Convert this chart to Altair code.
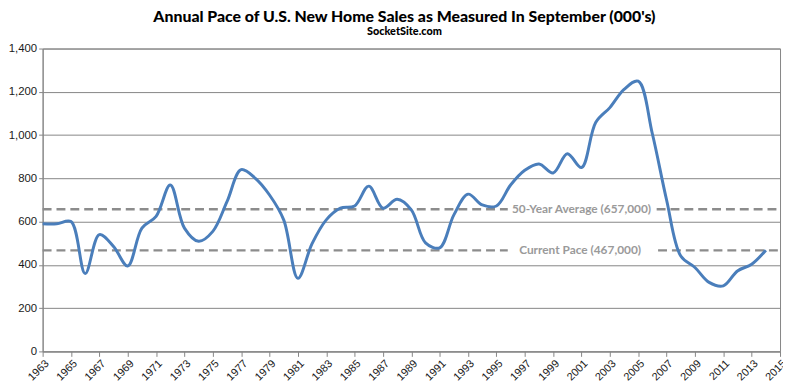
import altair as alt
import pandas as pd

years = list(range(1963, 2015))
sales = [590, 590, 600, 360, 540, 485, 395, 570, 624, 769,
         570, 509, 555, 692, 840, 800, 723, 608, 338, 498,
         608, 662, 672, 764, 662, 703, 654, 502, 479, 631,
         727, 677, 672, 769, 837, 866, 825, 914, 850, 1058,
         1127, 1211, 1249, 1005, 700, 441, 388, 319, 303, 372,
         403, 468]

avg_value = 657
current_value = 467
ref_values = [avg_value, avg_value, current_value, current_value]
ref_start = [1963, 2006.3, 1963, 2006.4]
ref_end = [1995.8, 2015, 1995.8, 2015]

labels = ["50-Year Average (657,000)", "Current Pace (467,000)"]
label_values = [avg_value, current_value]
label_years = [2001.0, 2000.9]

tick_years = list(range(1963, 2016, 2))
y_ticks = [0, 200, 400, 600, 800, 1000, 1200, 1400]

df = pd.DataFrame({"year": years, "sales": sales})
ref_df = pd.DataFrame({"x": ref_start, "x2": ref_end, "y": ref_values})
lab_df = pd.DataFrame({"x": label_years, "y": label_values, "text": labels})

xscale = alt.Scale(domain=[1963, 2015], nice=False, zero=False)
yscale = alt.Scale(domain=[0, 1400], nice=False)

gray = "#868686"

x_axis = alt.Axis(values=tick_years, format="d", labelAngle=-45,
                  labelAlign="right", labelBaseline="top",
                  labelOverlap=False, labelBound=False, labelFlush=False,
                  title=None, grid=False, tickSize=5,
                  labelFontSize=11, labelPadding=1)
y_axis = alt.Axis(values=y_ticks, format=",d", title=None, grid=True,
                  labelOverlap=False, labelFlush=False,
                  tickSize=4, labelFontSize=11.5, labelPadding=2)

line = alt.Chart(df).mark_line(
    color="#4A7EBB", strokeWidth=3, interpolate="catmull-rom"
).encode(
    x=alt.X("year:Q", scale=xscale, axis=x_axis),
    y=alt.Y("sales:Q", scale=yscale, axis=y_axis),
)

rules = alt.Chart(ref_df).mark_rule(
    color="#8C8C8C", strokeWidth=2.5, strokeDash=[9, 5]
).encode(
    x=alt.X("x:Q", scale=xscale, axis=x_axis),
    x2="x2:Q",
    y=alt.Y("y:Q", scale=yscale, axis=y_axis),
)

texts = alt.Chart(lab_df).mark_text(
    font="Lato", fontWeight="bold", fontSize=12, color="#9A9A9A",
    align="center", baseline="middle"
).encode(
    x=alt.X("x:Q", scale=xscale, axis=x_axis),
    y=alt.Y("y:Q", scale=yscale, axis=y_axis),
    text="text:N",
)

chart = alt.layer(rules, texts, line).properties(
    width=745,
    height=306,
    autosize=alt.AutoSizeParams(type="none"),
    padding={"left": 35, "top": 39, "right": 3, "bottom": 34},
    title=alt.TitleParams(
        "Annual Pace of U.S. New Home Sales as Measured In September (000's)",
        subtitle="SocketSite.com",
        font="Lato", fontSize=16, fontWeight=900, color="#000000",
        subtitleFont="Lato", subtitleFontSize=11, subtitleFontWeight=900,
        subtitleColor="#000000", subtitlePadding=1,
        anchor="middle", offset=6, dx=-7,
    ),
).configure_axis(
    domainColor=gray, tickColor=gray, gridColor=gray, gridOpacity=1,
    labelColor="#1a1a1a", labelFont="Liberation Sans", labelOverlap=False,
).configure_view(stroke=gray, strokeWidth=1)

chart.save("out.html", embed_options={"renderer": "svg", "actions": False})
